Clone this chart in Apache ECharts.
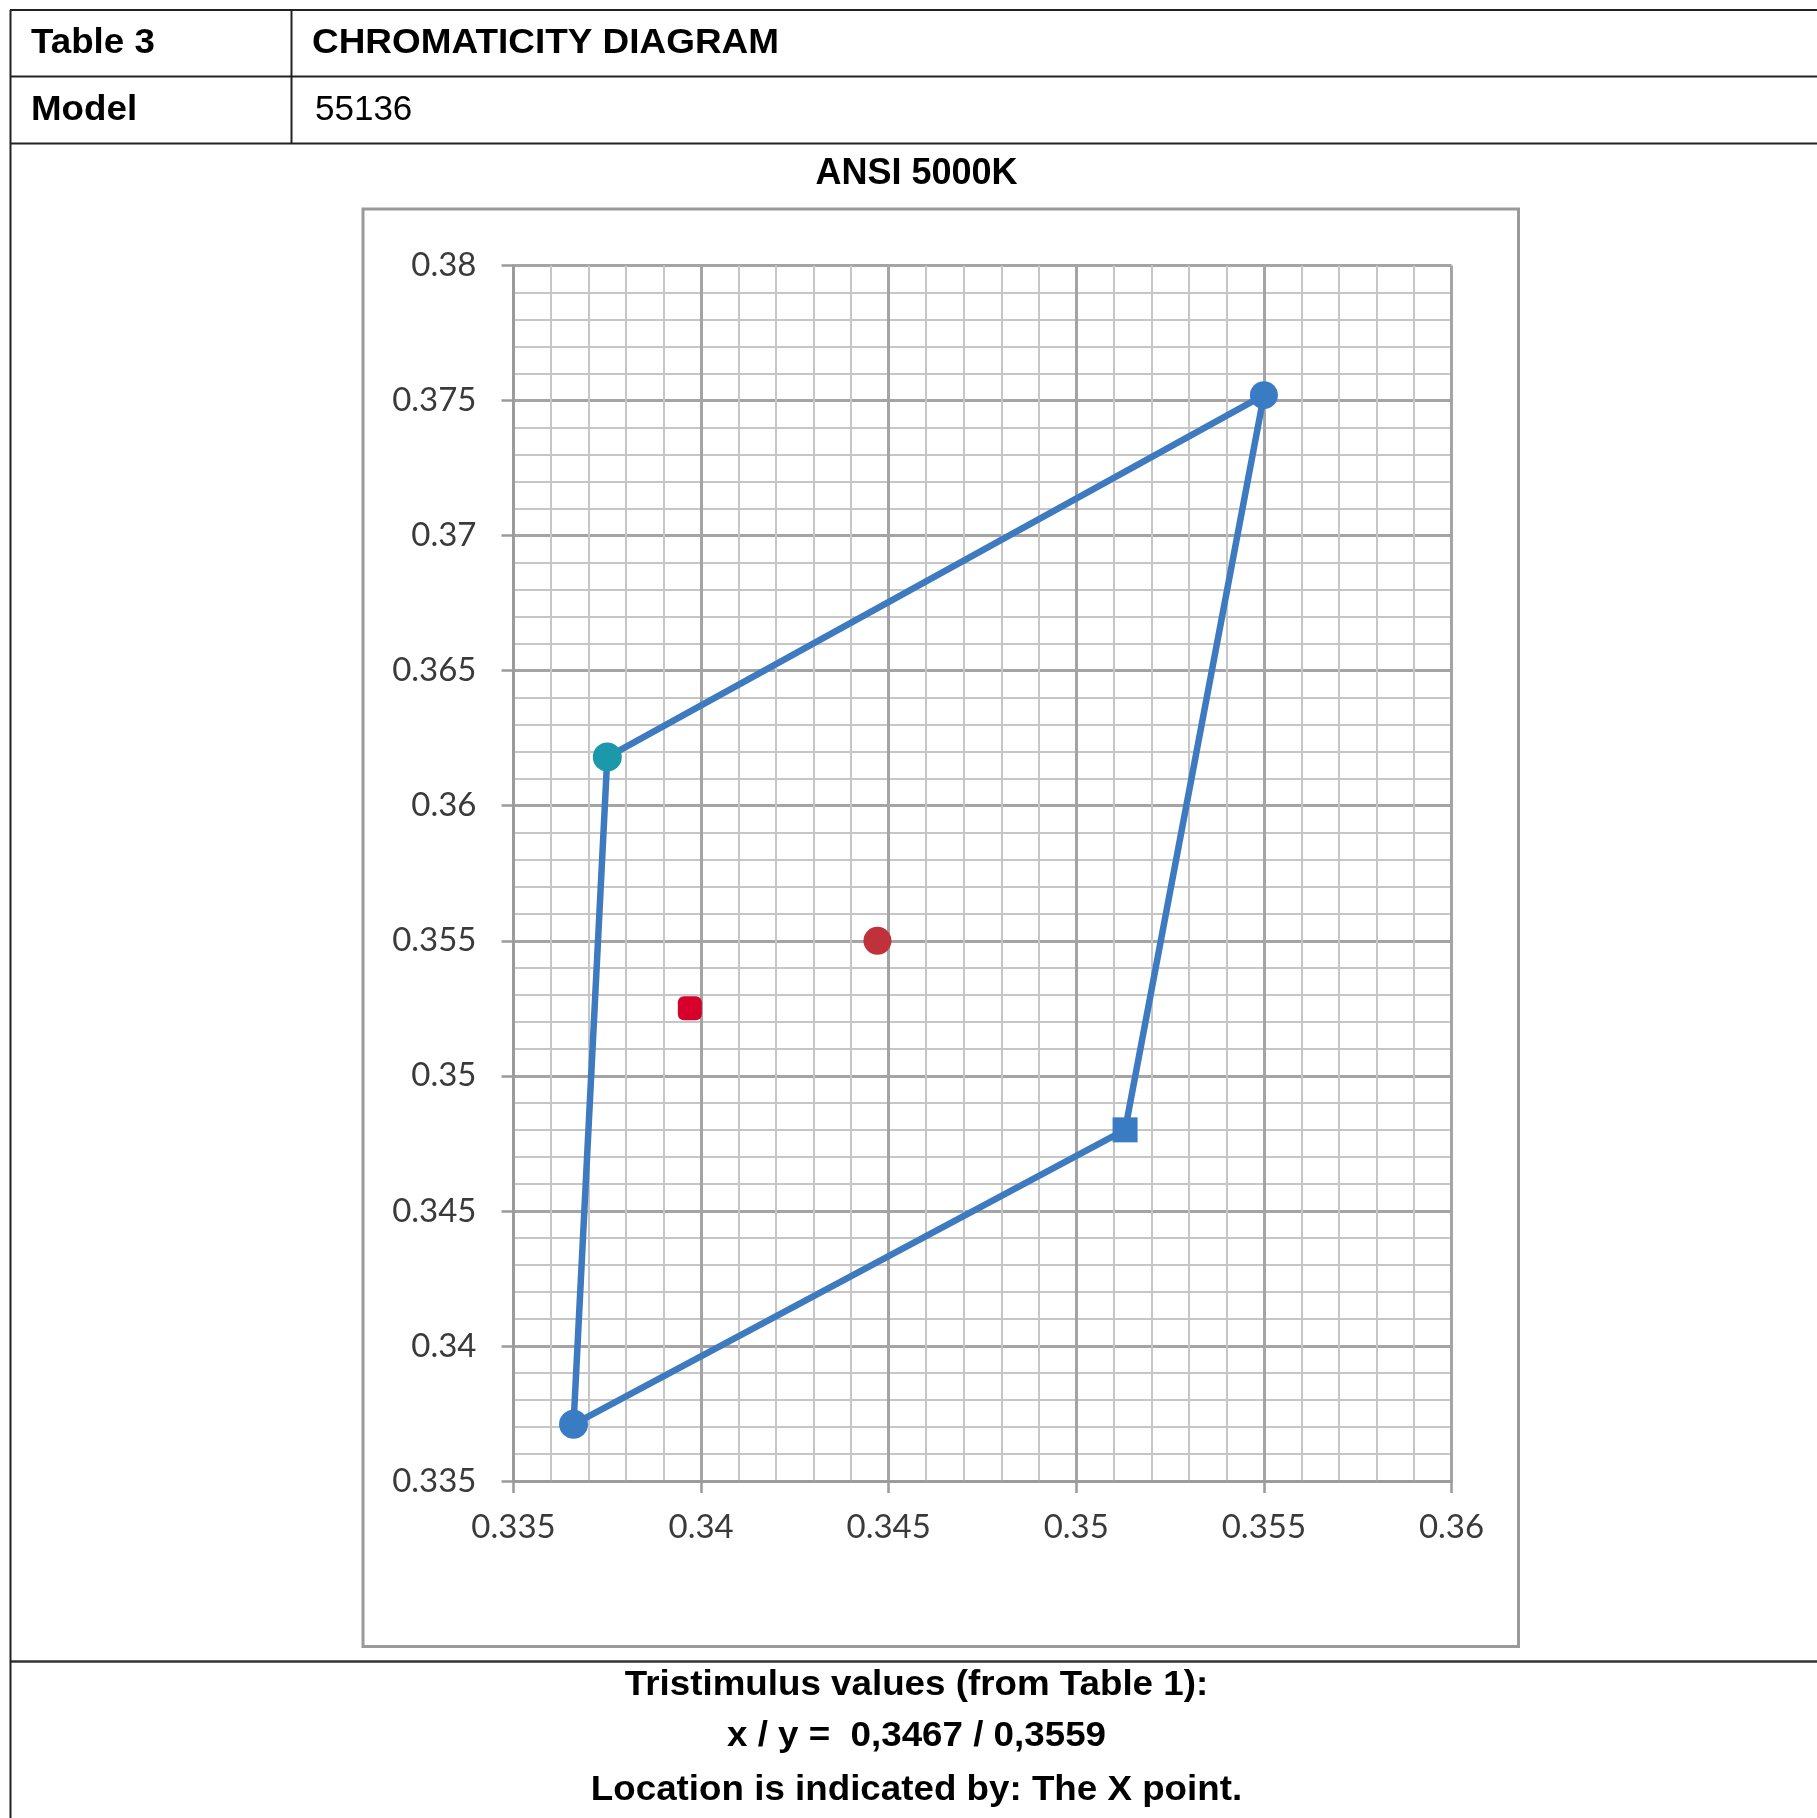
<!DOCTYPE html>
<html><head><meta charset="utf-8">
<script src="https://cdn.jsdelivr.net/npm/echarts@6/dist/echarts.min.js"></script>
<style>html,body{margin:0;padding:0;background:#fff}#c{width:1817px;height:1818px}</style>
</head><body><div id="c"></div>
<script>
// ---- data ----
const xAxisTicks = [0.335, 0.34, 0.345, 0.35, 0.355, 0.36];
const yAxisTicks = [0.335, 0.34, 0.345, 0.35, 0.355, 0.36, 0.365, 0.37, 0.375, 0.38];
// ANSI 5000K quadrangle, closed (top-right -> top-left -> bottom-left -> bottom-right -> top-right)
const quadX = [0.3550, 0.3375, 0.3366, 0.3513, 0.3550];
const quadY = [0.3752, 0.3618, 0.3371, 0.3480, 0.3752];
const centerPoint = [0.3447, 0.3550];
const measuredPoint = [0.3397, 0.3525];
const headerLabels = ['Table 3', 'CHROMATICITY DIAGRAM', 'Model', '55136'];
const chartTitle = 'ANSI 5000K';
const footerLines = ['Tristimulus values (from Table 1):', 'x / y =  0,3467 / 0,3559', 'Location is indicated by: The X point.'];

// ---- styles ----
const cornerStyles = [
  {symbol: 'circle', size: 28, color: '#3a7cc4'},
  {symbol: 'circle', size: 29, color: '#1b98aa'},
  {symbol: 'circle', size: 29, color: '#3a7cc4'},
  {symbol: 'rect', size: 25, color: '#3a7cc4'}
];
const FONT = '"Liberation Sans", Arial, Helvetica, sans-serif';
const AXFONT = 'Lato, "Open Sans", sans-serif';

const cornerData = quadX.slice(0, 4).map((x, i) => ({
  value: [x, quadY[i]],
  symbol: cornerStyles[i].symbol,
  symbolSize: cornerStyles[i].size,
  itemStyle: {color: cornerStyles[i].color, opacity: 1}
}));

const fmt = v => String(+(+v).toFixed(3));

const chart = echarts.init(document.getElementById('c'), null, {renderer: 'canvas'});

function txt(text, x, y, size, weight, align, sx) {
  return {type: 'text', x: x, y: y, scaleX: sx || 1, z: 10,
    style: {text: text, font: weight + ' ' + size + 'px ' + FONT, fill: '#000',
      align: align, verticalAlign: 'middle'}};
}
function ln(x1, y1, x2, y2, w, c) {
  return {type: 'line', z: 5, shape: {x1: x1, y1: y1, x2: x2, y2: y2},
    style: {stroke: c || '#222', lineWidth: w || 2}};
}

chart.setOption({
  backgroundColor: '#fff',
  animation: false,
  grid: {left: 513.5, top: 265.5, width: 938, height: 1215.5, containLabel: false},
  xAxis: {
    type: 'value', min: xAxisTicks[0], max: xAxisTicks[xAxisTicks.length - 1], interval: 0.005,
    axisLine: {show: true, onZero: false, lineStyle: {color: '#9a9a9a', width: 2.5}},
    axisTick: {show: true, length: 12, lineStyle: {color: '#9a9a9a', width: 2.5}},
    axisLabel: {formatter: fmt, fontFamily: AXFONT, fontSize: 33, color: '#3a3a3a', margin: 30},
    splitLine: {show: true, lineStyle: {color: '#a4a4a4', width: 3}},
    minorTick: {show: false, splitNumber: 5},
    minorSplitLine: {show: true, lineStyle: {color: '#c6c6c6', width: 2}}
  },
  yAxis: {
    type: 'value', min: yAxisTicks[0], max: yAxisTicks[yAxisTicks.length - 1], interval: 0.005,
    axisLine: {show: true, onZero: false, lineStyle: {color: '#9a9a9a', width: 2.5}},
    axisTick: {show: true, length: 12, lineStyle: {color: '#9a9a9a', width: 2.5}},
    axisLabel: {formatter: fmt, fontFamily: AXFONT, fontSize: 33, color: '#3a3a3a', margin: 37},
    splitLine: {show: true, lineStyle: {color: '#a4a4a4', width: 3}},
    minorTick: {show: false, splitNumber: 5},
    minorSplitLine: {show: true, lineStyle: {color: '#c6c6c6', width: 2}}
  },
  series: [
    {type: 'line', data: quadX.map((x, i) => [x, quadY[i]]), showSymbol: false, symbol: 'none',
      lineStyle: {color: '#3d7abf', width: 6.5}, z: 2, silent: true},
    {type: 'scatter', data: cornerData, z: 3, silent: true},
    {type: 'scatter', data: [centerPoint], symbol: 'circle', symbolSize: 28,
      itemStyle: {color: '#bf323b', opacity: 1}, z: 3, silent: true},
    {type: 'scatter', data: [measuredPoint], symbol: 'roundRect', symbolSize: 24,
      itemStyle: {color: '#d7002a', opacity: 1}, z: 3, silent: true}
  ],
  graphic: [
    // table lines
    ln(10, 10, 1817, 10, 2),
    ln(10, 76.5, 1817, 76.5, 2),
    ln(10, 143.5, 1817, 143.5, 2),
    ln(10, 1661.5, 1817, 1661.5, 2.5, '#333'),
    ln(10.5, 10, 10.5, 1818, 2),
    ln(291.5, 10, 291.5, 143.5, 2),
    // chart frame
    {type: 'rect', z: 1, shape: {x: 363, y: 209, width: 1155.5, height: 1437.5},
      style: {fill: 'none', stroke: '#9a9a9a', lineWidth: 3}},
    // header texts
    txt(headerLabels[0], 31, 43.5, 35, 'bold', 'left', 1.05),
    txt(headerLabels[1], 312, 43.5, 35, 'bold', 'left', 1.055),
    txt(headerLabels[2], 31, 110, 35, 'bold', 'left', 1.05),
    txt(headerLabels[3], 315, 110, 35, 'normal', 'left', 1.0),
    // chart title
    txt(chartTitle, 916.5, 174.5, 36, 'bold', 'center'),
    // footer
    txt(footerLines[0], 916.5, 1685.5, 35, 'bold', 'center', 1.05),
    txt(footerLines[1], 916.5, 1736.5, 35, 'bold', 'center', 1.05),
    txt(footerLines[2], 916.5, 1790, 35, 'bold', 'center', 1.05)
  ]
});
</script>
</body></html>
